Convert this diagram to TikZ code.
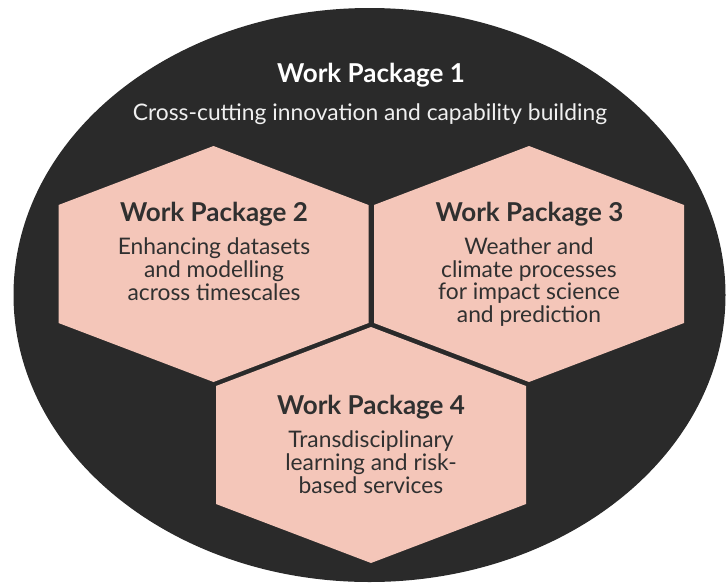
\documentclass[tikz,border=0pt]{standalone}
\usepackage{fontspec}
\setmainfont{Lato}
\definecolor{bgdark}{HTML}{2A2A2A}
\definecolor{hexpink}{HTML}{F4C6B9}
\definecolor{ink}{HTML}{303030}
\definecolor{lightink}{HTML}{F0F0F0}
\tikzset{
  hexagon/.pic={\fill[hexpink] (0,-118) -- (155,-59) -- (155,59) -- (0,118) -- (-155,59) -- (-155,-59) -- cycle;},
  wptitle/.style={font=\bfseries\fontsize{26}{28}\selectfont, text=ink, inner sep=0pt, anchor=base},
  wpbody/.style={font=\fontsize{22.8}{22.8}\selectfont, text=ink, align=center, inner sep=0pt, anchor=base},
}
\begin{document}
\begin{tikzpicture}[x=1pt,y=-1pt]
\useasboundingbox (0,0) rectangle (726,582);
\fill[bgdark] (369.5,295) ellipse [x radius=356pt, y radius=287pt];
\pic at (213.5,264) {hexagon};
\pic at (529,264) {hexagon};
\pic at (371,445) {hexagon};
\node[wptitle, text=white] (wp1t) at (371,82.7) {Work Package 1};
\node[wpbody, text=lightink] (wp1b) at (370,120) {Cross-cutting innovation and capability building};
\node[wptitle] (wp2t) at (214,221) {Work Package 2};
\node[wpbody] (wp2b) at (214,300) {Enhancing datasets\\and modelling\\across timescales};
\node[wptitle] (wp3t) at (529.5,221.7) {Work Package 3};
\node[wpbody] (wp3b) at (529,322.7) {Weather and\\climate processes\\for impact science\\and prediction};
\node[wptitle] (wp4t) at (371,414.3) {Work Package 4};
\node[wpbody] (wp4b) at (371,493.3) {Transdisciplinary\\learning and risk-\\based services};
\end{tikzpicture}
\end{document}
